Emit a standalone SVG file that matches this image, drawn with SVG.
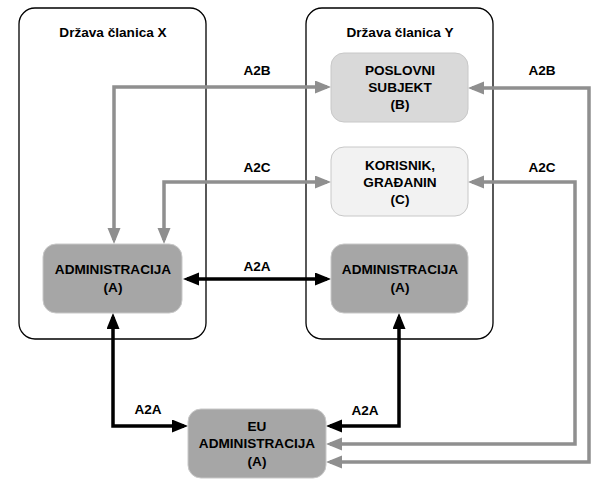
<svg xmlns="http://www.w3.org/2000/svg" width="602" height="484" viewBox="0 0 602 484">
<style>
text{font-family:"Liberation Sans",Arial,sans-serif;font-weight:bold;font-size:13.6px;fill:#000;text-anchor:middle}
.cont{fill:#fff;stroke:#000;stroke-width:1.3}
.node{stroke:#c8c8c8;stroke-width:1}
.a{fill:#a6a6a6}
.b{fill:#d9d9d9}
.c{fill:#f2f2f2}
.g{fill:none;stroke:#8f8f8f;stroke-width:3.5;marker-start:url(#ag);marker-end:url(#ag)}
.k{fill:none;stroke:#000;stroke-width:3.5;marker-start:url(#ak);marker-end:url(#ak)}
</style>
<defs>
<marker id="ag" markerUnits="userSpaceOnUse" markerWidth="18" markerHeight="14" refX="12" refY="6.5" orient="auto-start-reverse"><path d="M0,0 L16,6.5 L0,13 z" fill="#8f8f8f"/></marker>
<marker id="ak" markerUnits="userSpaceOnUse" markerWidth="18" markerHeight="14" refX="12" refY="6.5" orient="auto-start-reverse"><path d="M0,0 L16,6.5 L0,13 z" fill="#000"/></marker>
</defs>
<rect width="602" height="484" fill="#fff"/>
<g id="drzava-x">
<rect class="cont" x="19" y="8" width="187" height="331" rx="16"/>
<text x="113" y="37">Država članica X</text>
</g>
<g id="drzava-y">
<rect class="cont" x="306" y="8" width="187" height="331" rx="16"/>
<text x="400" y="37">Država članica Y</text>
</g>
<g id="connectors">
<path class="g" d="M114,240 V87 H327"/>
<path class="g" d="M164,240 V182 H327"/>
<path class="g" d="M472,88 H589 V462 H330"/>
<path class="g" d="M472,182 H575 V444 H330"/>
<path class="k" d="M187,279 H327"/>
<path class="k" d="M113,317 V426 H184"/>
<path class="k" d="M399,317 V426 H330"/>
<text x="257" y="75">A2B</text>
<text x="257" y="172">A2C</text>
<text x="542" y="75">A2B</text>
<text x="542" y="172">A2C</text>
<text x="257" y="271">A2A</text>
<text x="148" y="414">A2A</text>
<text x="365" y="415">A2A</text>
</g>
<g id="poslovni-subjekt">
<rect class="node b" x="331" y="53" width="137" height="69" rx="13"/>
<text x="400" y="75">POSLOVNI</text>
<text x="400" y="92">SUBJEKT</text>
<text x="400" y="109">(B)</text>
</g>
<g id="korisnik">
<rect class="node c" x="331" y="147" width="137" height="69" rx="13"/>
<text x="400" y="170">KORISNIK,</text>
<text x="400" y="187">GRAĐANIN</text>
<text x="400" y="204">(C)</text>
</g>
<g id="admin-x">
<rect class="node a" x="43" y="244" width="139" height="69" rx="13"/>
<text x="113" y="274">ADMINISTRACIJA</text>
<text x="113" y="292">(A)</text>
</g>
<g id="admin-y">
<rect class="node a" x="331" y="244" width="137" height="69" rx="13"/>
<text x="400" y="274">ADMINISTRACIJA</text>
<text x="400" y="292">(A)</text>
</g>
<g id="eu-admin">
<rect class="node a" x="188" y="409" width="138" height="69" rx="13"/>
<text x="257" y="431">EU</text>
<text x="257" y="448">ADMINISTRACIJA</text>
<text x="257" y="466">(A)</text>
</g>
</svg>
